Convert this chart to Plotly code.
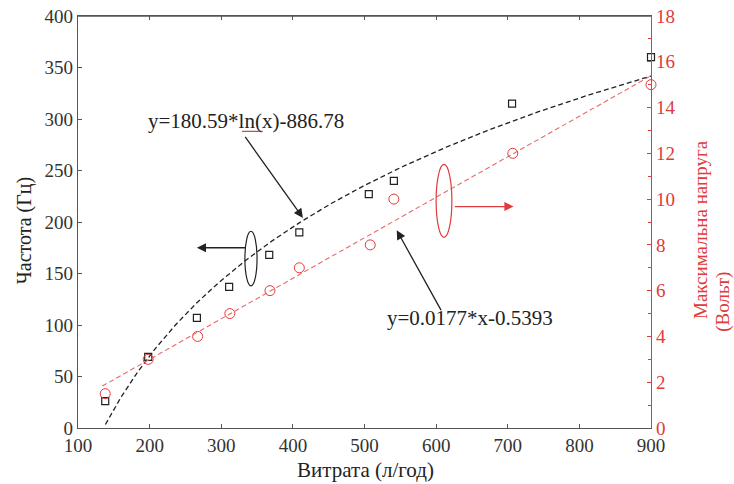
import numpy as np
import plotly.graph_objects as go

# ---- data ----
flow = [138, 198, 266, 311, 367, 409, 506, 541, 706, 900]
frequency = [26, 69, 107, 137, 168, 190, 227, 240, 315, 360]
voltage_flow = [138, 198, 267, 312, 368, 409, 508, 541, 707, 900]
voltage = [1.5, 3, 4, 5, 6, 7, 8, 10, 12, 15]

log_fit_a, log_fit_b = 180.59, -886.78      # y = a*ln(x) + b
lin_fit_a, lin_fit_b = 0.0177, -0.5393      # y = a*x + b
log_fit_span = (138.3, 900)
lin_fit_span = (134, 900)

x_ticks = [100, 200, 300, 400, 500, 600, 700, 800, 900]
y_ticks = [0, 50, 100, 150, 200, 250, 300, 350, 400]
y2_ticks = [0, 2, 4, 6, 8, 10, 12, 14, 16, 18]

eq_log_text = "y=180.59*ln(x)-886.78"
eq_lin_text = "y=0.0177*x-0.5393"

FONT = "Liberation Serif"
BLACK = "#222222"
AXIS = "#555555"
RED = "#e03a3a"
LRED = "#e86a6a"

fx_log = np.linspace(log_fit_span[0], log_fit_span[1], 300)
fy_log = log_fit_a * np.log(fx_log) + log_fit_b
fx_lin = np.array(lin_fit_span, dtype=float)
fy_lin = lin_fit_a * fx_lin + lin_fit_b

fig = go.Figure()
fig.add_trace(go.Scatter(x=fx_log, y=fy_log, mode="lines",
                         line=dict(color=BLACK, width=1.3, dash="5px,3px"),
                         showlegend=False, hoverinfo="skip"))
fig.add_trace(go.Scatter(x=fx_lin, y=fy_lin, mode="lines", yaxis="y2",
                         line=dict(color=LRED, width=1.1, dash="5px,3px"),
                         showlegend=False, hoverinfo="skip"))
fig.add_trace(go.Scatter(x=flow, y=frequency, mode="markers",
                         marker=dict(symbol="square-open", size=7,
                                     color=BLACK, line=dict(width=1.2)),
                         cliponaxis=False, showlegend=False))
fig.add_trace(go.Scatter(x=voltage_flow, y=voltage, mode="markers", yaxis="y2",
                         marker=dict(symbol="circle-open", size=10,
                                     color=RED, line=dict(width=1)),
                         cliponaxis=False, showlegend=False))

def title_ann(x, y, text, color, size, angle=0):
    return dict(x=x, y=y, xref="paper", yref="paper", text=text,
                textangle=angle, showarrow=False, xanchor="center",
                yanchor="middle", font=dict(family=FONT, size=size, color=color))

def arrow(x, y, ax, ay, color):
    return dict(x=x, y=y, ax=ax, ay=ay, xref="x", yref="y", axref="x",
                ayref="y", text="", showarrow=True, arrowhead=2,
                arrowsize=1.4, arrowwidth=1.3, arrowcolor=color)

annotations = [
    dict(x=335, y=298, xref="x", yref="y", text=eq_log_text, showarrow=False,
         font=dict(family=FONT, size=21, color=BLACK)),
    dict(x=647, y=107, xref="x", yref="y", text=eq_lin_text, showarrow=False,
         font=dict(family=FONT, size=21, color=BLACK)),
    arrow(414, 204, 332, 284, BLACK),
    arrow(545, 192, 608, 113, BLACK),
    arrow(266, 175, 336, 175, BLACK),
    arrow(708, 215, 624, 215, RED),
    title_ann(-0.094, 0.478, "Частота (Гц)", BLACK, 20, -90),
    title_ann(1.0855, 0.483, "Максимальна напруга", RED, 19, -90),
    title_ann(1.1245, 0.307, "(Вольт)", RED, 19, -90),
    title_ann(0.501, -0.102, "Витрата (л/год)", BLACK, 21),
]

shapes = [
    dict(type="circle", xref="x", yref="y", x0=333, x1=350, y0=138, y1=191,
         line=dict(color=BLACK, width=1.2)),
    dict(type="circle", xref="x", yref="y", x0=600, x1=622, y0=185, y1=256,
         line=dict(color=RED, width=1.2)),
    # spell-check underline under "ln"
    dict(type="line", xref="x", yref="y", x0=329, x1=358, y0=288, y1=288,
         line=dict(color=RED, width=1.2)),
    # top frame line
    dict(type="line", xref="paper", yref="paper", x0=0, x1=1, y0=1, y1=1,
         line=dict(color=AXIS, width=1.3), layer="above"),
]

fig.update_layout(
    width=734, height=484,
    margin=dict(l=78, r=83, t=16, b=56, autoexpand=False),
    paper_bgcolor="white", plot_bgcolor="white",
    font=dict(family=FONT, size=19, color=BLACK),
    annotations=annotations, shapes=shapes,
    xaxis=dict(range=[100, 900], tickvals=x_ticks, ticks="inside", ticklen=4,
               tickcolor=AXIS, showline=True, linecolor=AXIS, linewidth=1.3,
               mirror="ticks", showgrid=False, zeroline=False, automargin=False,
               tickfont=dict(family=FONT, size=19, color="#333333")),
    yaxis=dict(range=[0, 400], tickvals=y_ticks, ticks="inside", ticklen=4,
               tickcolor=AXIS, showline=True, linecolor=AXIS, linewidth=1.3,
               showgrid=False, zeroline=False, automargin=False,
               ticklabeloverflow="allow",
               tickfont=dict(family=FONT, size=19, color="#333333")),
    yaxis2=dict(range=[0, 18], tickvals=y2_ticks, overlaying="y", side="right",
                ticks="inside", ticklen=4, tickcolor=RED, showline=True,
                linecolor=RED, linewidth=1.3, showgrid=False, zeroline=False,
                automargin=False, ticklabeloverflow="allow",
                minor=dict(ticks="inside", dtick=1, ticklen=3, tickcolor=RED),
                tickfont=dict(family=FONT, size=19, color=RED)),
)

fig.write_html(
    "out.html",
    config={"displayModeBar": False},
    post_script="document.body.style.margin='0';document.body.style.overflow='hidden';",
)
